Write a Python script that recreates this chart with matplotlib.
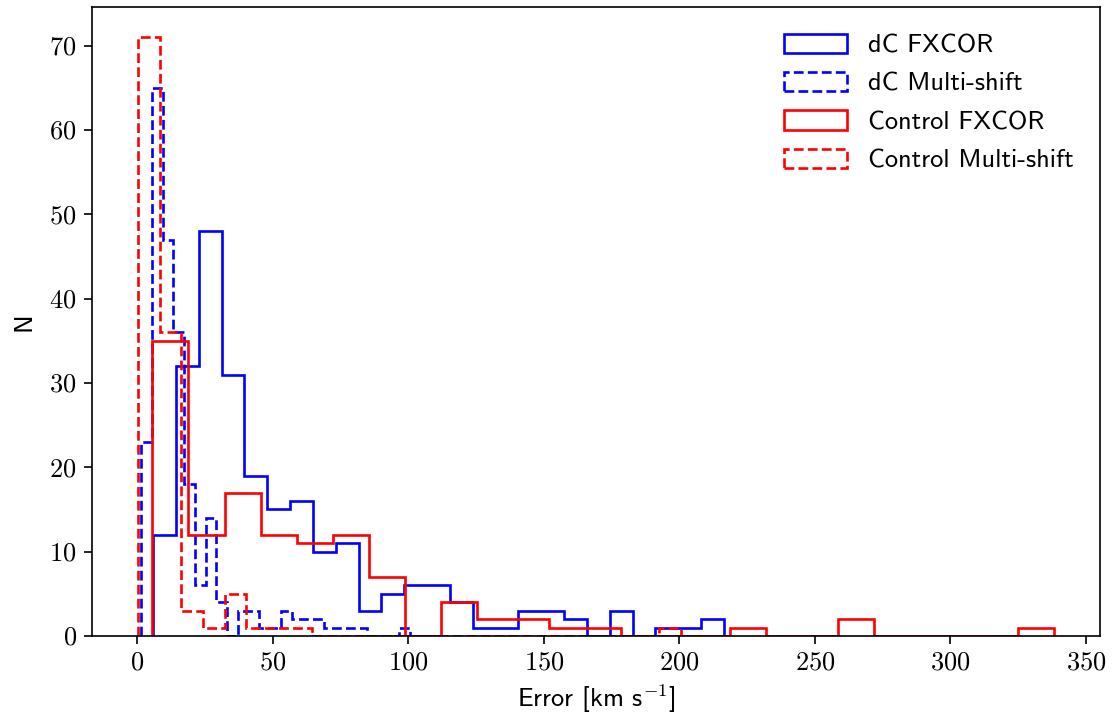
import matplotlib
matplotlib.use('Agg')
import matplotlib.pyplot as plt
import numpy as np

plt.rcParams['mathtext.fontset'] = 'cm'
plt.rcParams['font.family'] = ['cmss10', 'DejaVu Sans']
plt.rcParams['axes.unicode_minus'] = False

# bin ranges (km/s) and counts, 25 bins per sample
dc_fx_range = (5.8, 216.4)
dc_fx_counts = [12, 32, 48, 31, 19, 15, 16, 10, 11, 3, 5, 6, 6,
                4, 1, 1, 3, 3, 2, 0, 3, 0, 1, 1, 2]

dc_ms_range = (1.37, 100.6)
dc_ms_counts = [23, 65, 47, 36, 18, 6, 14, 4, 0, 3, 3, 1, 1,
                3, 2, 2, 2, 1, 1, 1, 1, 0, 0, 0, 1]

ctrl_fx_range = (5.5, 338.3)
ctrl_fx_counts = [35, 12, 17, 12, 11, 12, 7, 0, 4, 2, 2, 1, 1,
                  0, 0, 0, 1, 0, 0, 2, 0, 0, 0, 0, 1]

ctrl_ms_range = (0.15, 200.4)
ctrl_ms_counts = [71, 36, 3, 1, 5, 1, 1, 1, 0, 0, 0, 0, 0,
                  0, 0, 0, 0, 0, 0, 0, 0, 0, 0, 0, 1]

series = [
    ('dC FXCOR', dc_fx_range, dc_fx_counts, 'blue', '-'),
    ('dC Multi-shift', dc_ms_range, dc_ms_counts, 'blue', '--'),
    ('Control FXCOR', ctrl_fx_range, ctrl_fx_counts, 'red', '-'),
    ('Control Multi-shift', ctrl_ms_range, ctrl_ms_counts, 'red', '--'),
]

fig = plt.figure(figsize=(11.17, 7.17), dpi=100)
ax = fig.add_axes([0.0824, 0.113, 0.9024, 0.877])

for label, (lo, hi), counts, color, ls in series:
    edges = np.linspace(lo, hi, len(counts) + 1)
    ax.hist(edges[:-1], bins=edges, weights=counts, histtype='step',
            color=color, linestyle=ls, linewidth=1.9, label=label)

ax.set_xticks(np.arange(0, 351, 50))
ax.set_yticks(np.arange(0, 71, 10))
fmt = plt.FuncFormatter(lambda v, _: f'${v:.0f}$')
ax.xaxis.set_major_formatter(fmt)
ax.yaxis.set_major_formatter(fmt)
ax.tick_params(labelsize=19, width=1.2, length=6, pad=5)
for s in ax.spines.values():
    s.set_linewidth(1.2)

ax.set_xlabel(r'Error [km s$^{-1}$]', fontsize=19, labelpad=6)
ax.set_ylabel('N', fontsize=19, labelpad=10)

ax.legend(loc='upper right', frameon=False, fontsize=19,
          handlelength=2.4, handleheight=0.75, handletextpad=0.8,
          labelspacing=0.55, borderaxespad=0.6)

plt.savefig('out.png', dpi=100)
